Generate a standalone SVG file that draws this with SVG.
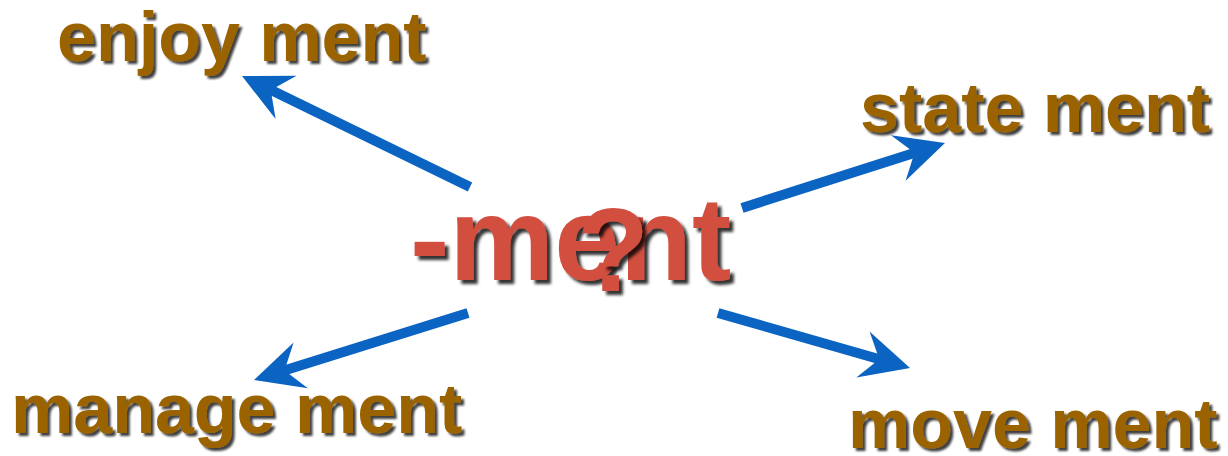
<svg xmlns="http://www.w3.org/2000/svg" width="1228" height="456" viewBox="0 0 1228 456">
  <defs>
    <style>
      .word { font-family: "Liberation Sans", Arial, sans-serif; font-weight: bold; font-size: 70px; fill: #9A6400; filter: url(#sh); }
      .big { font-family: "Liberation Sans", Arial, sans-serif; font-weight: bold; font-size: 118px; fill: #D24F40; filter: url(#shBig); }
      .arrow { stroke: #0B63C2; stroke-width: 10; fill: none; marker-end: url(#head); }
    </style>
    <filter id="sh" x="-10%" y="-20%" width="120%" height="150%">
      <feDropShadow dx="3" dy="3" stdDeviation="1.3" flood-color="#000" flood-opacity="0.75"/>
    </filter>
    <filter id="shBig" x="-10%" y="-20%" width="120%" height="150%">
      <feDropShadow dx="4" dy="4" stdDeviation="1.6" flood-color="#000" flood-opacity="0.8"/>
    </filter>
    <marker id="head" markerUnits="userSpaceOnUse" orient="auto" viewBox="-20 -25 51 50" markerWidth="51" markerHeight="50" refX="0" refY="0" overflow="visible">
      <path d="M30,0 L-19,-24 L-2,0 L-19,24 Z" fill="#0B63C2"/>
    </marker>
  </defs>
  <rect width="1228" height="456" fill="#FFFFFF"/>

  <g id="connectors">
    <line class="arrow" x1="470" y1="187" x2="269" y2="89.1"/>
    <line class="arrow" x1="742" y1="208" x2="916.4" y2="152.2"/>
    <line class="arrow" x1="468" y1="313" x2="282.6" y2="371"/>
    <line class="arrow" x1="718" y1="313" x2="881.2" y2="359.7"/>
  </g>

  <g id="center">
    <text class="big" x="410" y="280">-ment</text>
    <text class="big" x="577" y="291">?</text>
  </g>

  <g id="enjoyment">
    <text class="word" x="57" y="61">enjoy ment</text>
  </g>
  <g id="statement">
    <text class="word" x="860" y="132">state ment</text>
  </g>
  <g id="management">
    <text class="word" x="11" y="433">manage ment</text>
  </g>
  <g id="movement">
    <text class="word" x="848" y="448">move ment</text>
  </g>
</svg>
